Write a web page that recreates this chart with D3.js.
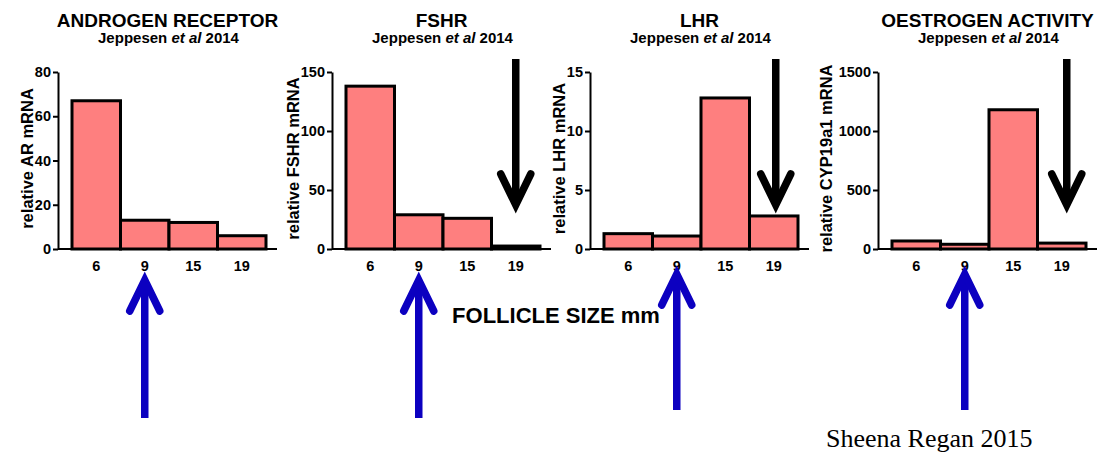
<!DOCTYPE html>
<html>
<head>
<meta charset="utf-8">
<script src="https://cdn.jsdelivr.net/npm/d3@7"></script>
<style>
  body { margin: 0; background: #fff; }
  svg { display: block; }
  text { font-family: "Liberation Sans", Arial, sans-serif; fill: #000; }
</style>
</head>
<body>
<svg id="chart" width="1110" height="454"></svg>
<script>
// Follicle size classes (mm)
const sizes = ["6", "9", "15", "19"];

// Panel titles and y-axis titles
const panelTitles = ["ANDROGEN RECEPTOR", "FSHR", "LHR", "OESTROGEN ACTIVITY"];
const yTitles = ["relative AR mRNA", "relative FSHR mRNA", "relative LHR mRNA", "relative CYP19a1 mRNA"];

// Relative mRNA expression per follicle size
const arValues = [67, 13, 12, 6];
const fshrValues = [138, 29, 26, 2.5];
const lhrValues = [1.3, 1.1, 12.8, 2.8];
const cyp19a1Values = [68, 40, 1180, 50];

// Y-axis ticks for each panel
const arTicks = [0, 20, 40, 60, 80];
const fshrTicks = [0, 50, 100, 150];
const lhrTicks = [0, 5, 10, 15];
const cyp19a1Ticks = [0, 500, 1000, 1500];

// Which size each arrow points at
const upArrowSize = "9";
const downArrowSize = "19";
const downArrowPanels = [1, 2, 3];

const seriesValues = [arValues, fshrValues, lhrValues, cyp19a1Values];
const seriesTicks = [arTicks, fshrTicks, lhrTicks, cyp19a1Ticks];

// Layout
const axisLeftX = [58, 332, 590, 878];
const yTitleGap = [2, 2, 2, 7];
const downArrowShift = [0, 0, 2, 5];
const axisLen = 219;
const barOffset = 14;
const barSpan = 194;
const yBottom = 249, yTop = 72;
const BAR_FILL = "#fe7f7f";
const BLUE = "#0c00c0";
const TICK_FONT = 14.5;

const svg = d3.select("#chart");

function arrow(g, x, yTail, yTip, color, dir) {
  const wing = 15, wingDrop = 31 * dir;
  g.append("line")
    .attr("x1", x).attr("x2", x)
    .attr("y1", yTail).attr("y2", yTip - 2 * dir)
    .attr("stroke", color).attr("stroke-width", 7.5);
  g.append("path")
    .attr("d", d3.line()([[x - wing, yTip - wingDrop], [x, yTip], [x + wing, yTip - wingDrop]]))
    .attr("fill", "none").attr("stroke", color).attr("stroke-width", 7.5)
    .attr("stroke-linecap", "round").attr("stroke-linejoin", "miter")
    .attr("stroke-miterlimit", 10);
}

panelTitles.forEach((title, i) => {
  const ax = axisLeftX[i];
  const values = seriesValues[i];
  const ticks = seriesTicks[i];
  const g = svg.append("g");

  const x = d3.scaleBand().domain(sizes)
    .range([ax + barOffset, ax + barOffset + barSpan]).padding(0);
  const y = d3.scaleLinear().domain([0, ticks[ticks.length - 1]]).range([yBottom, yTop]);

  // bars
  g.selectAll("rect").data(values).join("rect")
    .attr("x", (d, j) => x(sizes[j]))
    .attr("width", x.bandwidth())
    .attr("y", d => y(d))
    .attr("height", d => y(0) - y(d))
    .attr("fill", BAR_FILL)
    .attr("stroke", "#000")
    .attr("stroke-width", 3);

  // x axis
  g.append("line")
    .attr("x1", ax).attr("x2", ax + axisLen)
    .attr("y1", yBottom).attr("y2", yBottom)
    .attr("stroke", "#000").attr("stroke-width", 2);
  const xa = g.append("g").attr("transform", `translate(0,${yBottom})`)
    .call(d3.axisBottom(x).tickSize(0).tickPadding(11.5));
  xa.select(".domain").remove();
  xa.selectAll("text").attr("font-size", TICK_FONT).attr("font-weight", "bold")
    .attr("font-family", "Liberation Sans, Arial, sans-serif");

  // y axis
  const ya = g.append("g").attr("transform", `translate(${ax},0)`)
    .call(d3.axisLeft(y).tickValues(ticks).tickFormat(d3.format("d"))
      .tickSize(5).tickSizeOuter(0).tickPadding(2));
  ya.select(".domain").attr("stroke-width", 2);
  ya.selectAll(".tick line").attr("stroke-width", 2);
  ya.selectAll("text").attr("font-size", TICK_FONT).attr("font-weight", "bold")
    .attr("font-family", "Liberation Sans, Arial, sans-serif");

  // y axis title, set just left of the widest tick label
  let minX = 0;
  ya.selectAll(".tick text").each(function () {
    minX = Math.min(minX, this.getBBox().x);
  });
  g.append("text")
    .attr("transform", `translate(${ax + minX - yTitleGap[i]},${(yTop + yBottom) / 2 - 2}) rotate(-90)`)
    .attr("text-anchor", "middle")
    .attr("font-size", 16.5).attr("font-weight", "bold")
    .text(yTitles[i]);

  // titles
  const cx = ax + axisLen / 2;
  g.append("text").attr("x", cx).attr("y", 27)
    .attr("text-anchor", "middle").attr("font-size", 19).attr("font-weight", "bold")
    .text(title);
  const sub = g.append("text").attr("x", cx + 1).attr("y", 43)
    .attr("text-anchor", "middle").attr("font-size", 15).attr("font-weight", "bold");
  sub.append("tspan").text("Jeppesen ");
  sub.append("tspan").attr("font-style", "italic").text("et al");
  sub.append("tspan").text(" 2014");

  // upward arrow at the 9 mm class
  const upX = x(upArrowSize) + x.bandwidth() / 2;
  const upTip = i < 2 ? 280 : 274;
  arrow(g, upX, i < 2 ? 418 : 410, upTip, BLUE, -1);

  // downward arrow at the 19 mm class
  if (downArrowPanels.includes(i)) {
    const dx = x(downArrowSize) + x.bandwidth() / 2 + downArrowShift[i];
    arrow(g, dx, 59, 205, "#000", 1);
  }
});

// shared x axis title
svg.append("text").attr("x", 556).attr("y", 323)
  .attr("text-anchor", "middle").attr("font-size", 22).attr("font-weight", "bold")
  .text("FOLLICLE SIZE mm");

// credit
svg.append("text").attr("x", 826).attr("y", 447)
  .style("font-family", "'Liberation Serif', 'Times New Roman', serif")
  .attr("font-size", 26)
  .text("Sheena Regan 2015");
</script>
</body>
</html>
